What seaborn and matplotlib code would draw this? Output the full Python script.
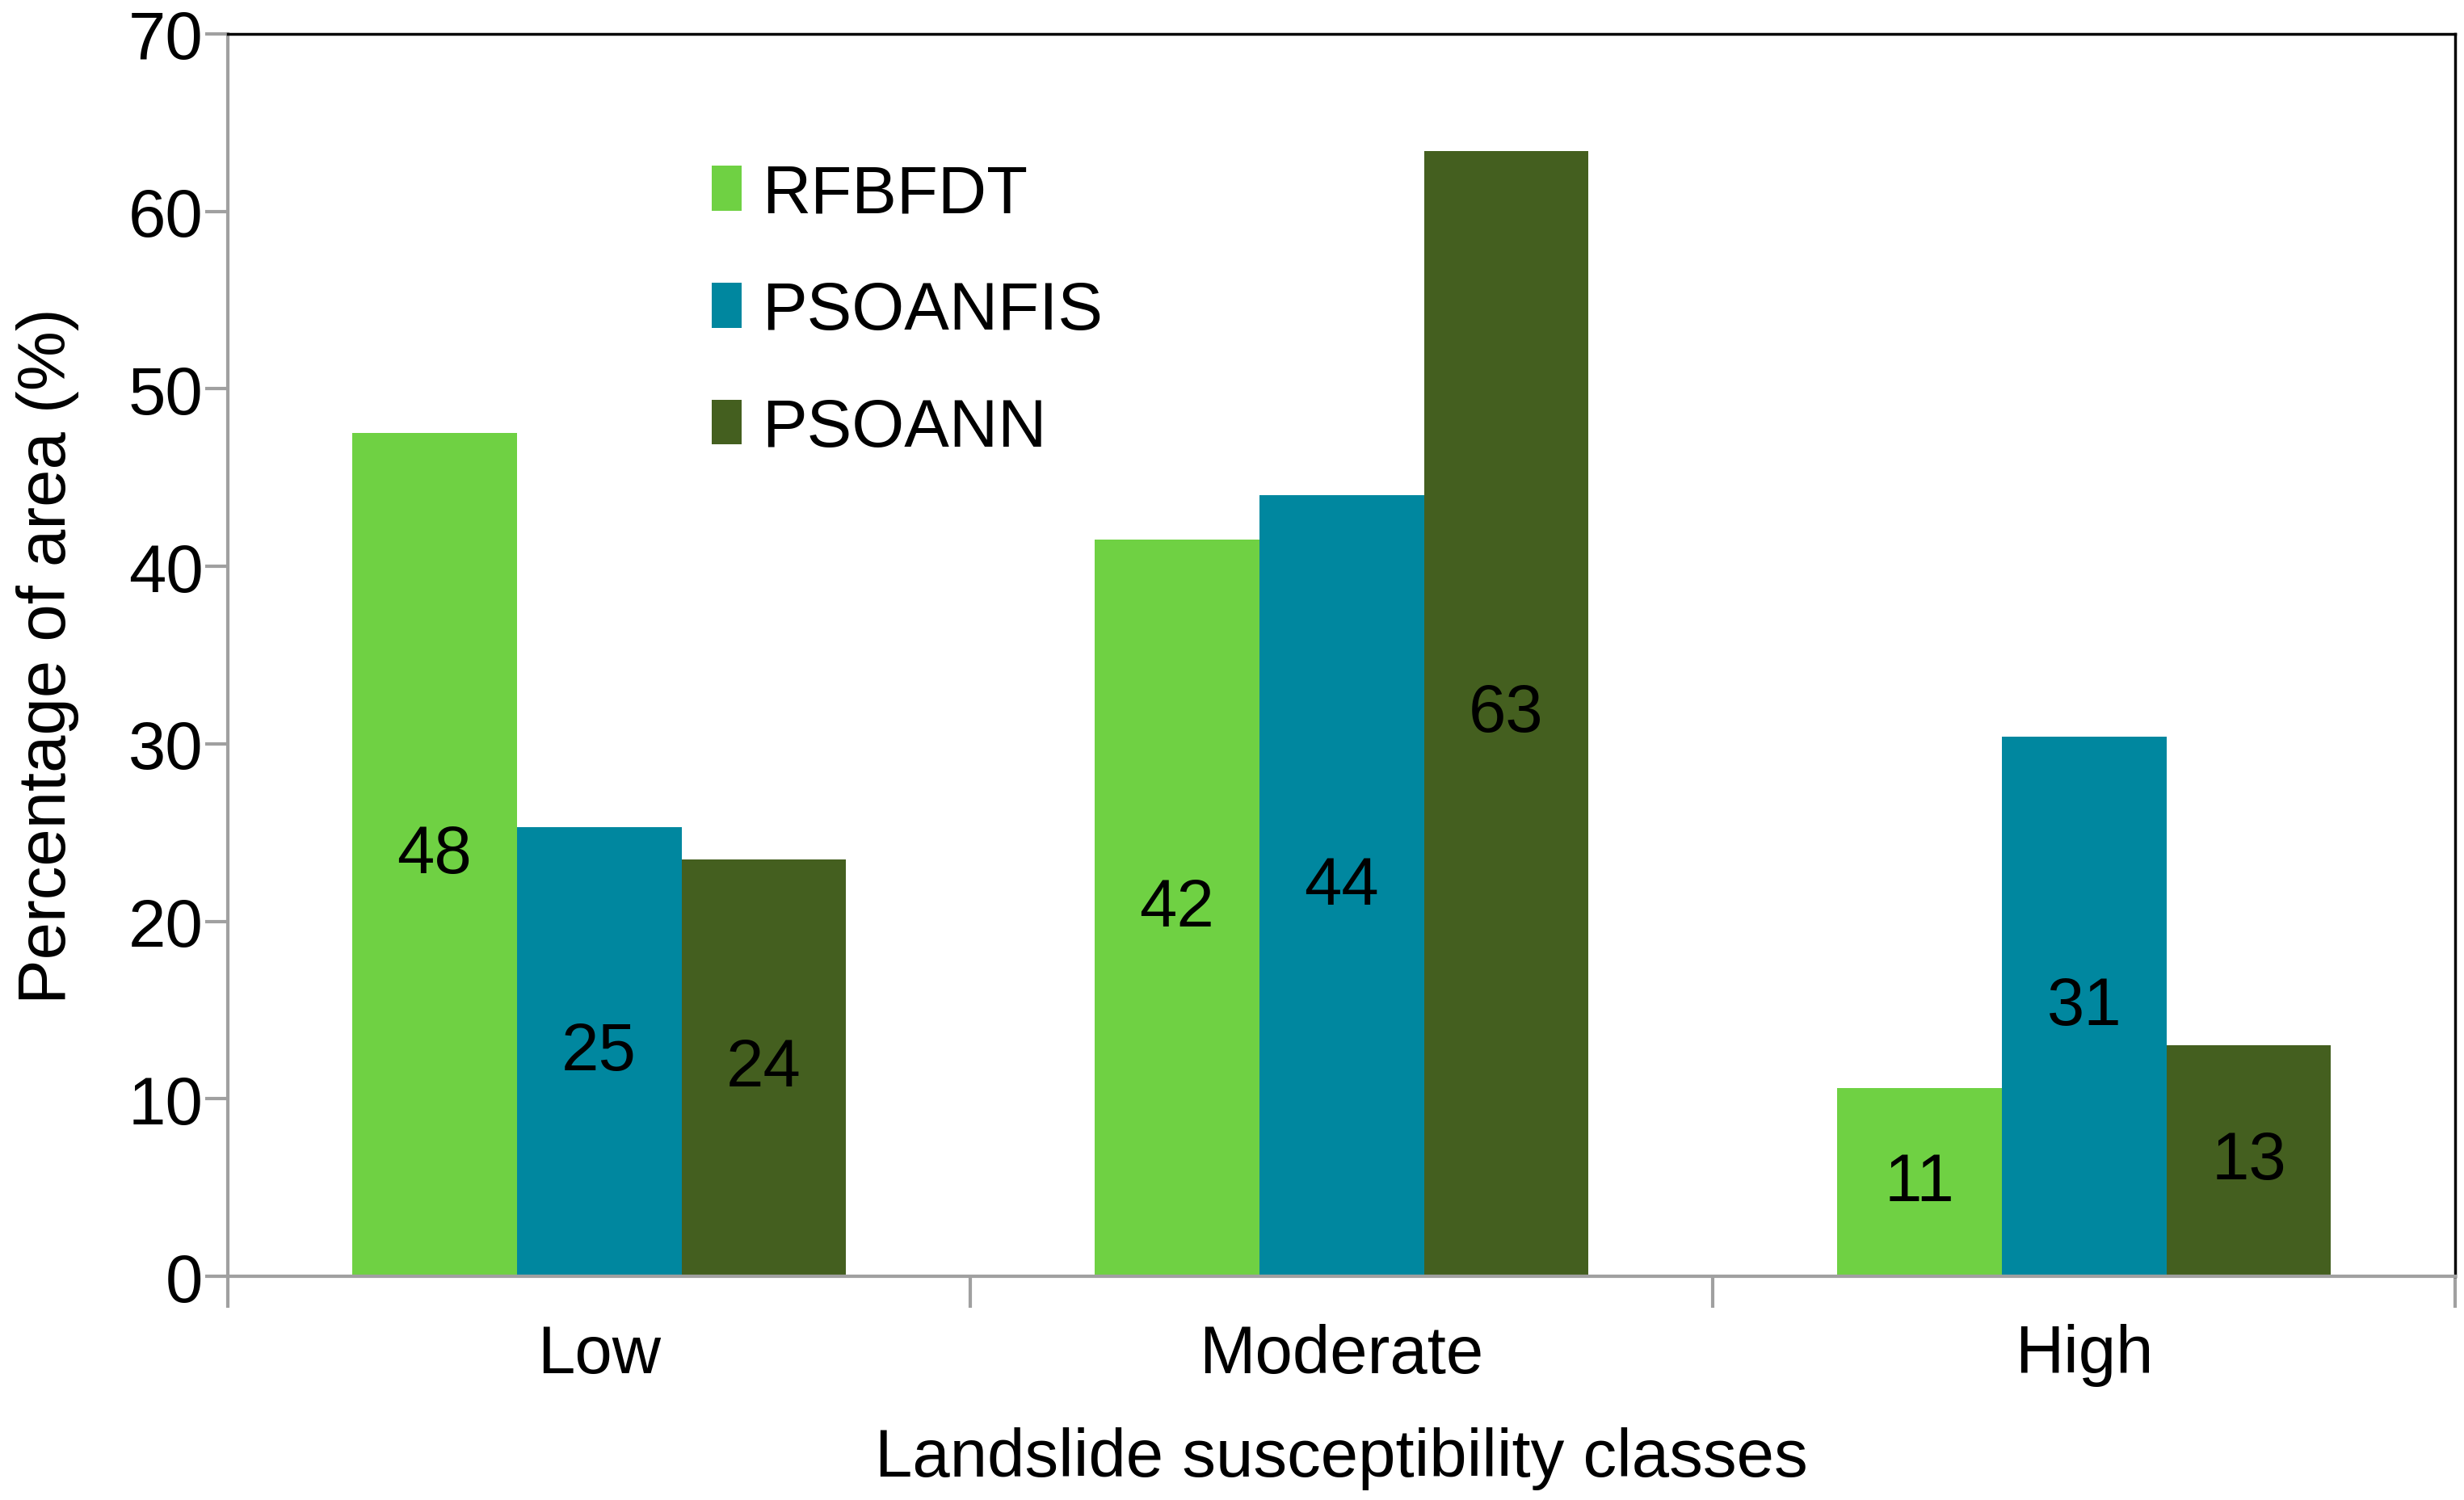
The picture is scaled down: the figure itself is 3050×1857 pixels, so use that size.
import pandas as pd
import matplotlib.pyplot as plt
import seaborn as sns
from matplotlib.ticker import FixedLocator

CLASSES = ['Low', 'Moderate', 'High']
MODELS = ['RFBFDT', 'PSOANFIS', 'PSOANN']
RFBFDT = [47.5, 41.5, 10.6]
PSOANFIS = [25.3, 44.0, 30.4]
PSOANN = [23.5, 63.4, 13.0]
LABELS = {
    'RFBFDT': ['48', '42', '11'],
    'PSOANFIS': ['25', '44', '31'],
    'PSOANN': ['24', '63', '13'],
}
COLORS = {'RFBFDT': '#6fd143', 'PSOANFIS': '#00879f', 'PSOANN': '#445f1f'}

df = pd.DataFrame({'class': CLASSES * 3,
                   'model': [m for m in MODELS for _ in CLASSES],
                   'value': RFBFDT + PSOANFIS + PSOANN})

sns.set_style("white")
plt.rcParams['font.family'] = ['Liberation Sans', 'DejaVu Sans']
plt.rcParams['text.color'] = 'black'
plt.rcParams['axes.labelcolor'] = 'black'
plt.rcParams['xtick.labelcolor'] = 'black'
plt.rcParams['ytick.labelcolor'] = 'black'
FS = 60

fig = plt.figure(figsize=(30.5, 18.58), dpi=100)
ax = fig.add_axes([0.0925, 0.149, 0.904, 0.828])

sns.barplot(data=df, x='class', y='value', hue='model', order=CLASSES, hue_order=MODELS,
            palette=COLORS, width=0.665, gap=0, saturation=1, errorbar=None,
            linewidth=0, ax=ax)

for cont, name in zip(ax.containers, MODELS):
    ax.bar_label(cont, labels=LABELS[name], label_type='center', fontsize=FS, color='black')

ax.set_ylim(0, 70)
ax.set_xlim(-0.5, 2.5)
ax.set_yticks(range(0, 71, 10))
ax.tick_params(axis='y', labelsize=FS, direction='out', length=20, width=3, color='#a0a0a0', pad=2, left=True)
ax.tick_params(axis='x', which='major', labelsize=FS, length=0, pad=42)
ax.xaxis.set_minor_locator(FixedLocator([-0.5, 0.5, 1.5, 2.5]))
ax.tick_params(axis='x', which='minor', direction='out', length=28, width=3, color='#a0a0a0', bottom=True)

for side in ['left', 'bottom']:
    ax.spines[side].set_color('#a0a0a0')
    ax.spines[side].set_linewidth(3)
for side in ['top', 'right']:
    ax.spines[side].set_color('black')
    ax.spines[side].set_linewidth(2.5)

ax.set_xlabel('Landslide susceptibility classes', fontsize=FS, labelpad=36)
ax.set_ylabel('Percentage of area (%)', fontsize=FS, labelpad=44)

leg = ax.legend(loc='upper left', bbox_to_anchor=(0.19, 0.945), frameon=False, fontsize=FS,
                handlelength=0.45, handleheight=0.65, handletextpad=0.3, labelspacing=0.8)

fig.savefig('out.png', dpi=100)
